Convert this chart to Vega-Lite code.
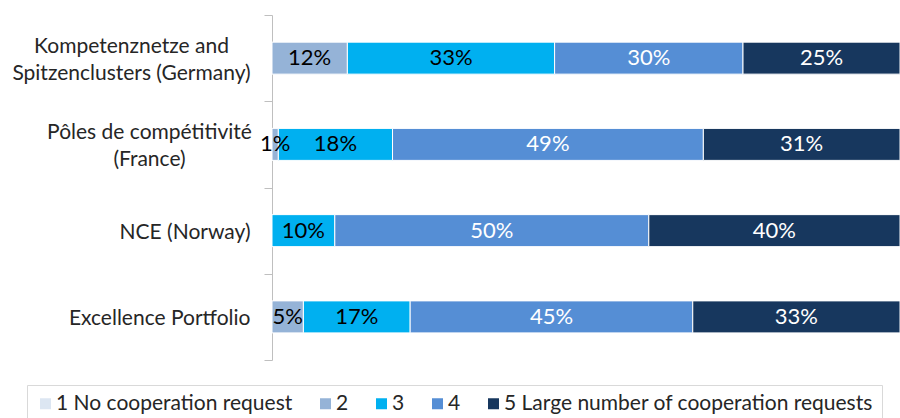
{
  "$schema": "https://vega.github.io/schema/vega-lite/v6.json",
  "width": 628,
  "height": 345,
  "autosize": {"type": "none"},
  "padding": {"left": 272, "top": 15, "right": 0, "bottom": 58},
  "background": "white",
  "config": {"view": {"stroke": null}, "font": "Lato"},
  "data": {
    "values": [
      {"program": "Kompetenznetze and|Spitzenclusters (Germany)", "rating": "1 No cooperation request", "value": 0},
      {"program": "Kompetenznetze and|Spitzenclusters (Germany)", "rating": "2", "value": 12},
      {"program": "Kompetenznetze and|Spitzenclusters (Germany)", "rating": "3", "value": 33},
      {"program": "Kompetenznetze and|Spitzenclusters (Germany)", "rating": "4", "value": 30},
      {"program": "Kompetenznetze and|Spitzenclusters (Germany)", "rating": "5 Large number of cooperation requests", "value": 25},
      {"program": "Pôles de compétitivité|(France)", "rating": "1 No cooperation request", "value": 0},
      {"program": "Pôles de compétitivité|(France)", "rating": "2", "value": 1},
      {"program": "Pôles de compétitivité|(France)", "rating": "3", "value": 18},
      {"program": "Pôles de compétitivité|(France)", "rating": "4", "value": 49},
      {"program": "Pôles de compétitivité|(France)", "rating": "5 Large number of cooperation requests", "value": 31},
      {"program": "NCE (Norway)", "rating": "1 No cooperation request", "value": 0},
      {"program": "NCE (Norway)", "rating": "2", "value": 0},
      {"program": "NCE (Norway)", "rating": "3", "value": 10},
      {"program": "NCE (Norway)", "rating": "4", "value": 50},
      {"program": "NCE (Norway)", "rating": "5 Large number of cooperation requests", "value": 40},
      {"program": "Excellence Portfolio", "rating": "1 No cooperation request", "value": 0},
      {"program": "Excellence Portfolio", "rating": "2", "value": 5},
      {"program": "Excellence Portfolio", "rating": "3", "value": 17},
      {"program": "Excellence Portfolio", "rating": "4", "value": 45},
      {"program": "Excellence Portfolio", "rating": "5 Large number of cooperation requests", "value": 33}
    ]
  },
  "transform": [
    {"filter": "datum.value > 0"},
    {"stack": "value", "groupby": ["program"], "sort": [{"field": "rating", "order": "ascending"}], "offset": "normalize", "as": ["x0", "x1"]},
    {"calculate": "(datum.x0 + datum.x1) / 2", "as": "xm"},
    {"calculate": "datum.value + '%'", "as": "label"}
  ],
  "encoding": {
    "y": {
      "field": "program",
      "type": "nominal",
      "sort": ["Kompetenznetze and|Spitzenclusters (Germany)", "Pôles de compétitivité|(France)", "NCE (Norway)", "Excellence Portfolio"],
      "scale": {"paddingInner": 0, "paddingOuter": 0},
      "axis": {
        "title": null,
        "tickBand": "extent",
        "domainColor": "#bfbfbf",
        "tickColor": "#bfbfbf",
        "tickSize": 8,
        "labelFontSize": 21,
        "labelFont": "Lato",
        "labelColor": "#262626",
        "labelLimit": 300,
        "labelLineHeight": 27,
        "labelAlign": {"condition": {"test": "datum.value == 'Kompetenznetze and|Spitzenclusters (Germany)' || datum.value == 'Pôles de compétitivité|(France)'", "value": "center"}, "value": "right"},
        "labelPadding": {"condition": [
          {"test": "datum.value == 'Kompetenznetze and|Spitzenclusters (Germany)'", "value": 133},
          {"test": "datum.value == 'Pôles de compétitivité|(France)'", "value": 115}
        ], "value": 14},
        "labelOffset": {"condition": {"test": "datum.value == 'Kompetenznetze and|Spitzenclusters (Germany)' || datum.value == 'Pôles de compétitivité|(France)'", "value": -12}, "value": 2},
        "labelExpr": "datum.value ? split(datum.value, '|') : ''"
      }
    }
  },
  "layer": [
    {
      "mark": {"type": "bar", "size": 32, "stroke": "white", "strokeWidth": 1},
      "encoding": {
        "x": {"field": "x0", "type": "quantitative", "scale": {"domain": [0, 1], "nice": false}, "axis": null},
        "x2": {"field": "x1"},
        "color": {
          "field": "rating",
          "type": "nominal",
          "scale": {
            "domain": ["1 No cooperation request", "2", "3", "4", "5 Large number of cooperation requests"],
            "range": ["#dce6f2", "#95b3d7", "#00b0f0", "#558ed5", "#17375e"]
          },
          "legend": {
            "title": null,
            "orient": "none",
            "legendX": -245,
            "legendY": 370,
            "direction": "horizontal",
            "strokeColor": "#d9d9d9",
            "padding": 8,
            "symbolType": "square",
            "symbolSize": 121,
            "symbolStrokeWidth": 0,
            "labelFontSize": 21,
            "labelFont": "Lato",
            "labelColor": "#262626",
            "labelLimit": 500,
            "labelOffset": 0,
            "columnPadding": 22
          }
        }
      }
    },
    {
      "mark": {"type": "text", "fontSize": 22, "font": "Lato"},
      "encoding": {
        "x": {"field": "xm", "type": "quantitative"},
        "text": {"field": "label"},
        "color": {"condition": {"test": "datum.rating == '4' || indexof(datum.rating, '5') == 0", "value": "white"}, "value": "black"}
      }
    }
  ]
}
